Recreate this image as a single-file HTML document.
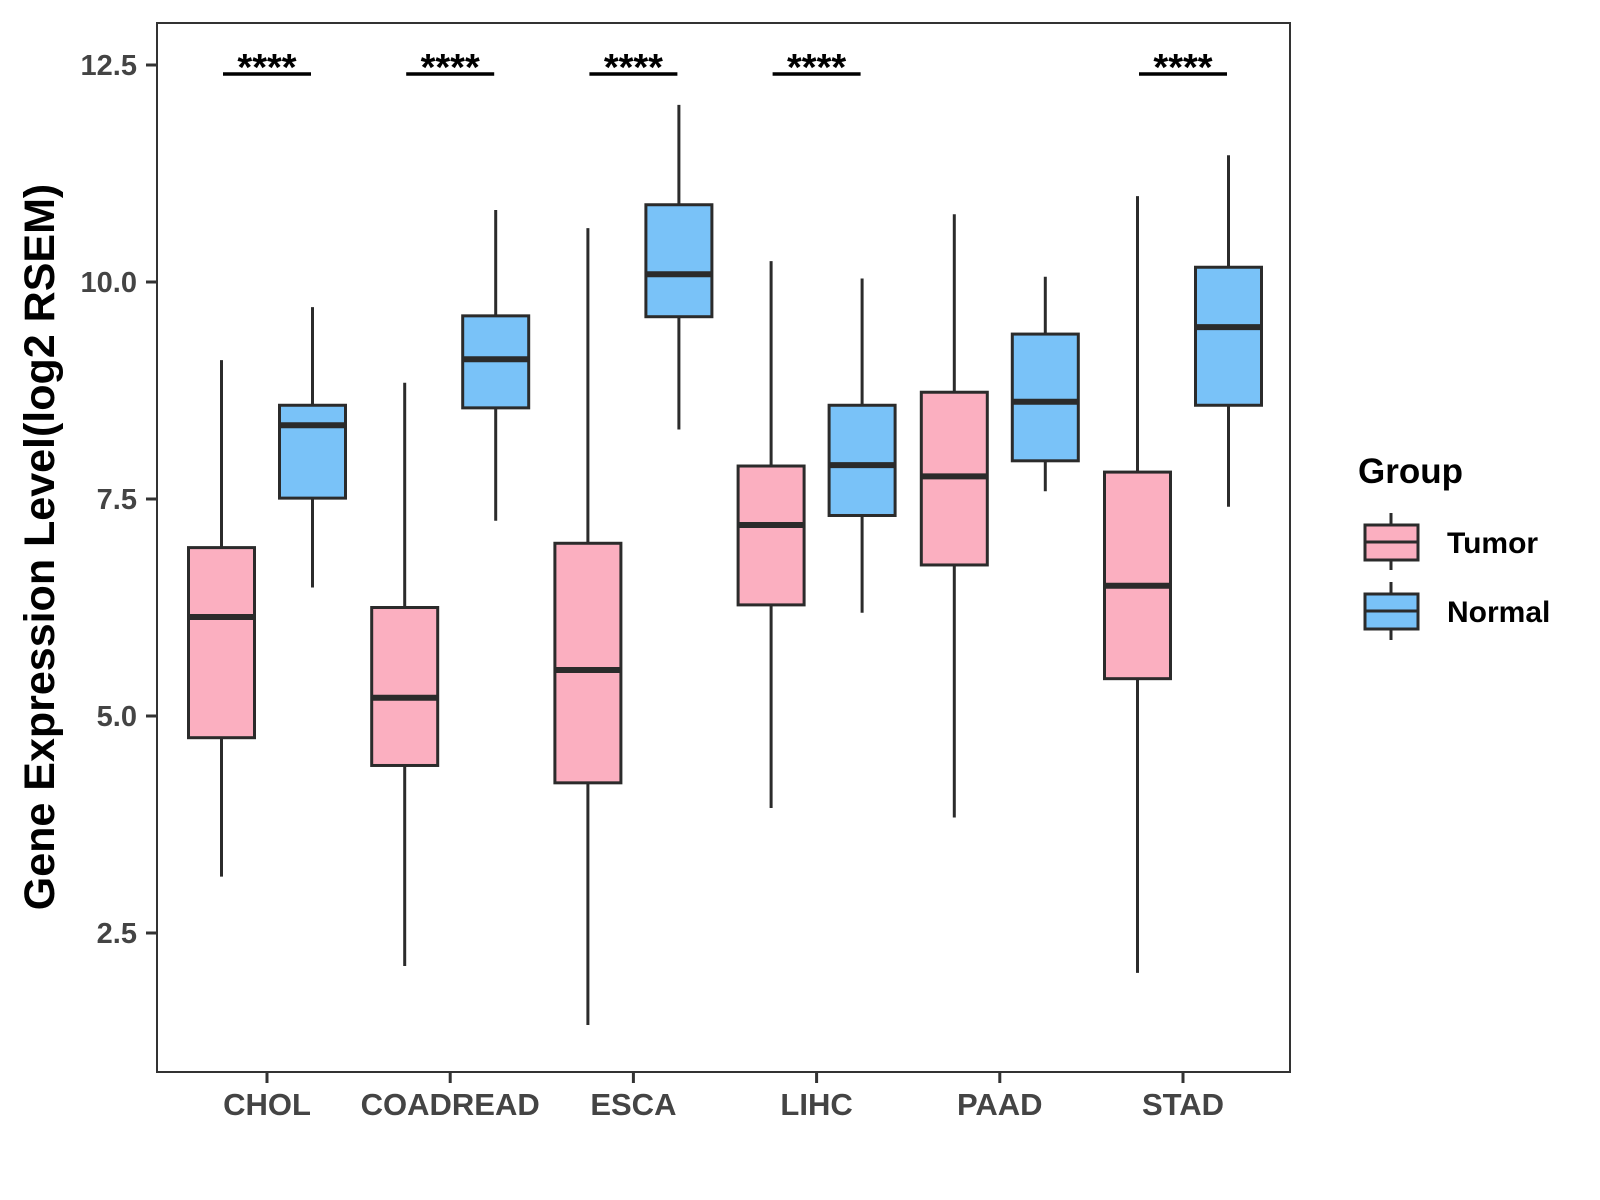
<!DOCTYPE html>
<html><head><meta charset="utf-8"><style>
body{margin:0;background:#fff}
svg{display:block;font-family:"Liberation Sans",Arial,sans-serif}
</style></head><body>
<svg id="chart" width="1600" height="1200" viewBox="0 0 1600 1200">
<rect x="157" y="23" width="1133" height="1049" fill="#fff" stroke="#333" stroke-width="2"/>
<g id="yaxis"></g>
<g id="xaxis"></g>
<g id="boxes"></g>
<g id="sig"></g>
<text x="54" y="547" transform="rotate(-90 54 547)" text-anchor="middle" font-size="43" font-weight="bold" fill="#000">Gene Expression Level(log2 RSEM)</text>
<g>
<text x="1358" y="483" font-size="35" font-weight="bold" fill="#000">Group</text>
<g>
<line x1="1391" y1="513" x2="1391" y2="570" stroke="#2b2b2b" stroke-width="3"/>
<rect x="1365" y="525" width="53" height="35" fill="#FBAFC0" stroke="#2b2b2b" stroke-width="3"/>
<line x1="1365" y1="542" x2="1418" y2="542" stroke="#2b2b2b" stroke-width="3"/>
<text x="1447" y="553" font-size="30" font-weight="bold" fill="#000">Tumor</text>
</g>
<g>
<line x1="1391" y1="582" x2="1391" y2="640" stroke="#2b2b2b" stroke-width="3"/>
<rect x="1365" y="594" width="53" height="35" fill="#79C2F8" stroke="#2b2b2b" stroke-width="3"/>
<line x1="1365" y1="611" x2="1418" y2="611" stroke="#2b2b2b" stroke-width="3"/>
<text x="1447" y="622" font-size="30" font-weight="bold" fill="#000">Normal</text>
</g>
</g>
</svg>
<script>
const categories=["CHOL","COADREAD","ESCA","LIHC","PAAD","STAD"];
const tumorMin=[3.15,2.12,1.44,3.94,3.83,2.04];
const tumorQ1=[4.75,4.43,4.23,6.28,6.74,5.43];
const tumorMed=[6.14,5.21,5.53,7.20,7.76,6.50];
const tumorQ3=[6.94,6.25,6.99,7.88,8.73,7.81];
const tumorMax=[9.10,8.84,10.62,10.24,10.78,10.99];
const normalMin=[6.48,7.25,8.30,6.19,7.59,7.41];
const normalQ1=[7.51,8.55,9.60,7.31,7.94,8.58];
const normalMed=[8.35,9.11,10.09,7.89,8.62,9.48];
const normalQ3=[8.58,9.61,10.89,8.58,9.40,10.17];
const normalMax=[9.71,10.83,12.04,10.04,10.06,11.46];
const significance=["****","****","****","****","","****"];
const yTicks=[2.5,5.0,7.5,10.0,12.5];
const yTickLabels=["2.5","5.0","7.5","10.0","12.5"];

const NS="http://www.w3.org/2000/svg";
function y(v){return 933-(v-2.5)*86.8;}
function x(i){return 267+i*183.2;}
function mk(tag,attrs,parent){const e=document.createElementNS(NS,tag);for(const k in attrs)e.setAttribute(k,attrs[k]);parent.appendChild(e);return e;}
const ya=document.getElementById('yaxis'),xa=document.getElementById('xaxis'),bx=document.getElementById('boxes'),sg=document.getElementById('sig');
yTicks.forEach((t,i)=>{
  const l=mk('line',{x1:146,x2:157,y1:y(t),y2:y(t),stroke:'#333','stroke-width':3},ya);
  
  
  const tx=mk('text',{x:137,y:y(t)+10,'text-anchor':'end','font-size':29,'font-weight':'bold',fill:'#444'},ya);
  tx.textContent=yTickLabels[i];
  
  
});
categories.forEach((c,i)=>{
  const l=mk('line',{x1:x(i),x2:x(i),y1:1072,y2:1083,stroke:'#333','stroke-width':3},xa);
  
  
  const tx=mk('text',{x:x(i),y:1115,'text-anchor':'middle','font-size':31,'font-weight':'bold',fill:'#444'},xa);
  tx.textContent=c;
  
  
});
function box(cx,mn,q1,md,q3,mx,fill,name){
  const g=mk('g',{},bx);
  
  
  const w=66;
  mk('line',{x1:cx,x2:cx,y1:y(mx),y2:y(mn),stroke:'#2b2b2b','stroke-width':3},g);
  mk('rect',{x:cx-w/2,y:y(q3),width:w,height:y(q1)-y(q3),fill:fill,stroke:'#2b2b2b','stroke-width':3},g);
  mk('line',{x1:cx-w/2,x2:cx+w/2,y1:y(md),y2:y(md),stroke:'#2b2b2b','stroke-width':6},g);
}
categories.forEach((c,i)=>{
  box(x(i)-45.5,tumorMin[i],tumorQ1[i],tumorMed[i],tumorQ3[i],tumorMax[i],'#FBAFC0','box-tumor-'+c.toLowerCase());
  box(x(i)+45.5,normalMin[i],normalQ1[i],normalMed[i],normalQ3[i],normalMax[i],'#79C2F8','box-normal-'+c.toLowerCase());
  if(significance[i]){
    const l=mk('line',{x1:x(i)-44,x2:x(i)+44,y1:74,y2:74,stroke:'#000','stroke-width':3.5},sg);
    
    
    const t=mk('text',{x:x(i),y:80,'text-anchor':'middle','font-size':38,'font-weight':'bold',fill:'#000'},sg);
    t.textContent=significance[i];
    
    
  }
});
</script>
</body></html>
